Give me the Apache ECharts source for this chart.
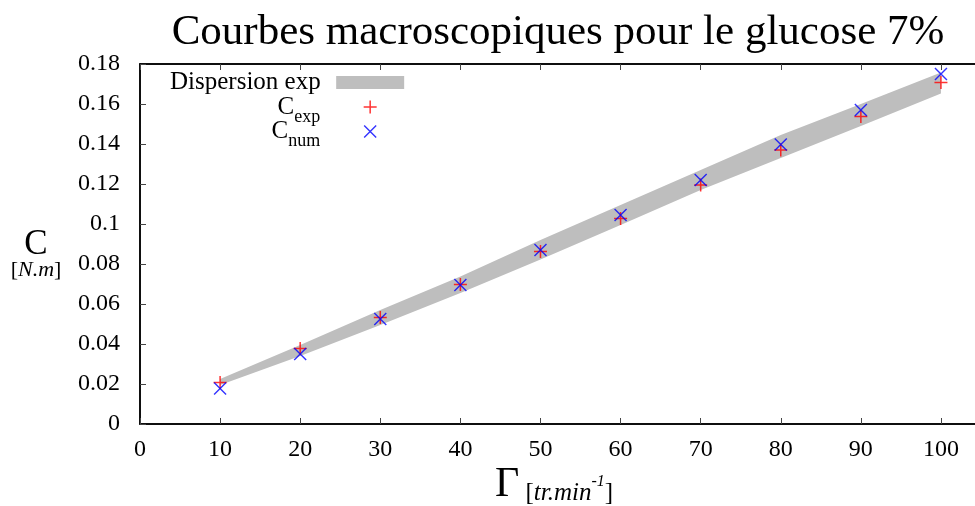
<!DOCTYPE html>
<html>
<head>
<meta charset="utf-8">
<script src="https://cdn.jsdelivr.net/npm/echarts@6/dist/echarts.min.js"></script>
<style>
  html, body { margin: 0; padding: 0; background: #fff; }
  #chart { width: 975px; height: 506px; }
</style>
</head>
<body>
<div id="chart"></div>
<script>
// rotation speed [tr/min]
const gamma = [10, 20, 30, 40, 50, 60, 70, 80, 90, 100];
// experimental dispersion band [N.m]
const bandLow = [0.0195, 0.034, 0.0495, 0.0655, 0.0823, 0.0995, 0.117, 0.133, 0.149, 0.1653];
const bandHigh = [0.0225, 0.0395, 0.057, 0.0737, 0.092, 0.1095, 0.127, 0.1445, 0.160, 0.1757];
// torque, experimental and numerical
const cExp = [0.0207, 0.0378, 0.0533, 0.0698, 0.0862, 0.1028, 0.1195, 0.137, 0.1537, 0.1708];
const cNum = [0.0178, 0.035, 0.0525, 0.0695, 0.087, 0.1045, 0.122, 0.1398, 0.157, 0.175];
const yTicks = [0, 0.02, 0.04, 0.06, 0.08, 0.1, 0.12, 0.14, 0.16, 0.18];

const FONT = 'Liberation Serif';
const plusPath = 'path://M0,5.75H13V7.25H0Z M5.75,0H7.25V13H5.75Z';
const crossPath = 'path://M0,1L1,0L13,12L12,13Z M12,0L13,1L1,13L0,12Z';

const chart = echarts.init(document.getElementById('chart'));

const bandPts = gamma.map((g, i) => [g, bandLow[i], bandHigh[i]]);

const option = {
  backgroundColor: '#fff',
  animation: false,
  title: {
    text: 'Courbes macroscopiques pour le glucose 7%',
    left: 553,
    top: 6,
    textAlign: 'center',
    textStyle: { fontFamily: FONT, fontSize: 43, fontWeight: 'normal', color: '#000' }
  },
  legend: {
    orient: 'vertical',
    align: 'right',
    left: 170,
    top: 70,
    padding: 0,
    itemWidth: 68,
    itemHeight: 13,
    itemGap: -7,
    selectedMode: false,
    data: [
      { name: 'Dispersion exp', icon: 'rect', itemStyle: { color: '#bebebe' } },
      { name: 'Cexp' },
      { name: 'Cnum' }
    ],
    formatter: function (name) {
      if (name === 'Cexp') return '{c|C}{s|exp}';
      if (name === 'Cnum') return '{c|C}{s|num}';
      return '{c|' + name + '}{z| }';
    },
    textStyle: {
      color: '#000',
      fontFamily: FONT,
      width: 164,
      align: 'right',
      rich: {
        c: { fontFamily: FONT, fontSize: 25, lineHeight: 24, color: '#000' },
        s: { fontFamily: FONT, fontSize: 18, lineHeight: 38, verticalAlign: 'bottom', color: '#000', padding: [0, 11, 0, 0] },
        z: { fontFamily: FONT, fontSize: 18, lineHeight: 38, verticalAlign: 'bottom', color: '#000', padding: [0, 6, 0, 0] }
      }
    }
  },
  grid: {
    left: 140, right: -6, top: 64, bottom: 82,
    outerBoundsMode: 'none',
    show: true, borderColor: '#000', borderWidth: 1.5
  },
  xAxis: [{
    type: 'value',
    min: 0, max: 105, interval: 10,
    axisLine: { lineStyle: { color: '#000', width: 1.5 } },
    axisTick: { inside: true, length: 6, lineStyle: { color: '#444' } },
    splitLine: { show: false },
    axisLabel: {
      margin: 14, color: '#000', fontFamily: FONT, fontSize: 24,
      formatter: v => (v % 10 === 0 && v <= 100 ? String(v) : '')
    }
  }, {
    type: 'value', position: 'top',
    min: 0, max: 105, interval: 10,
    axisLine: { lineStyle: { color: '#000', width: 1.5 } },
    axisTick: { inside: true, length: 6, lineStyle: { color: '#444' } },
    axisLabel: { show: false },
    splitLine: { show: false }
  }],
  yAxis: {
    type: 'value',
    min: 0, max: 0.18, interval: 0.02,
    axisLine: { show: true, lineStyle: { color: '#000', width: 1.5 } },
    axisTick: { show: true, inside: true, length: 6, lineStyle: { color: '#444' } },
    splitLine: { show: false },
    axisLabel: {
      margin: 20, color: '#000', fontFamily: FONT, fontSize: 24,
      formatter: v => {
        const t = yTicks.find(k => Math.abs(k - v) < 1e-9);
        return t === undefined ? '' : String(t);
      }
    }
  },
  graphic: [
    {
      type: 'text', x: 36, y: 231,
      style: {
        text: '{c|C}\n{b|[}{i|N.m}{b|]}',
        align: 'center', verticalAlign: 'top',
        rich: {
          c: { fontFamily: FONT, fontSize: 35, lineHeight: 28, color: '#000', align: 'center' },
          b: { fontFamily: FONT, fontSize: 22, lineHeight: 22, color: '#000' },
          i: { fontFamily: FONT, fontSize: 22, lineHeight: 22, fontStyle: 'italic', color: '#000' }
        }
      }
    },
    {
      type: 'text', x: 554, y: 470,
      style: {
        text: '{g|Γ}{b| [}{i|tr.min}{p|-1}{b|]}',
        align: 'center', verticalAlign: 'top',
        rich: {
          g: { fontFamily: FONT, fontSize: 42, lineHeight: 36, verticalAlign: 'bottom', color: '#000' },
          b: { fontFamily: FONT, fontSize: 25, lineHeight: 25, verticalAlign: 'bottom', color: '#000' },
          i: { fontFamily: FONT, fontSize: 25, lineHeight: 25, verticalAlign: 'bottom', fontStyle: 'italic', color: '#000' },
          p: { fontFamily: FONT, fontSize: 16, lineHeight: 16, verticalAlign: 'top', fontStyle: 'italic', color: '#000', padding: [4, 0, 0, 0] }
        }
      }
    }
  ],
  series: [
    {
      name: 'Dispersion exp',
      type: 'custom',
      color: '#bebebe',
      data: bandPts,
      encode: { x: 0, y: [1, 2] },
      renderItem: function (params, api) {
        if (params.dataIndex !== 0) return null;
        const top = bandPts.map(p => api.coord([p[0], p[2]]));
        const bot = bandPts.map(p => api.coord([p[0], p[1]])).reverse();
        return {
          type: 'polygon',
          shape: { points: top.concat(bot) },
          style: { fill: '#bebebe' },
          silent: true
        };
      },
      z: 1
    },
    {
      name: 'Cexp',
      type: 'scatter',
      symbol: plusPath,
      symbolSize: 13,
      symbolKeepAspect: true,
      itemStyle: { color: '#ff0000' },
      data: gamma.map((g, i) => [g, cExp[i]]),
      z: 3
    },
    {
      name: 'Cnum',
      type: 'scatter',
      symbol: crossPath,
      symbolSize: 13,
      symbolKeepAspect: true,
      itemStyle: { color: '#0000ff' },
      data: gamma.map((g, i) => [g, cNum[i]]),
      z: 4
    }
  ]
};

chart.setOption(option);
</script>
</body>
</html>
